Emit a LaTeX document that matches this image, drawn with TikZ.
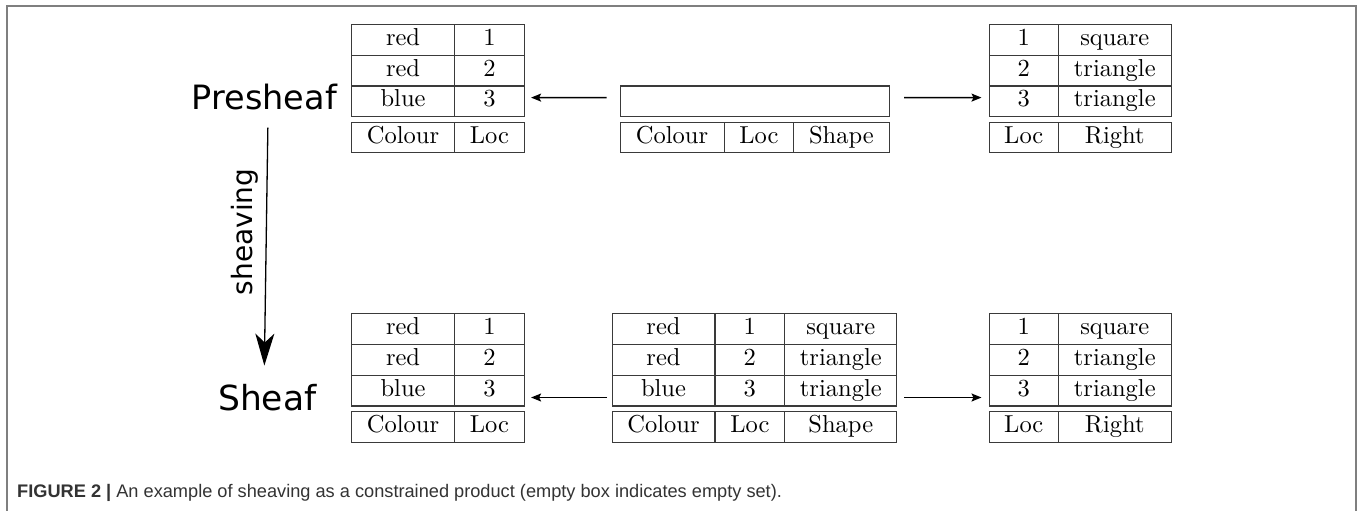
\documentclass[tikz,border=0pt]{standalone}
\usepackage{fontspec}
\newfontfamily\dejavu{DejaVu Sans}
\newfontfamily\capfont{Liberation Sans}
\newfontfamily\lmten{lmroman10-regular.otf}
\usetikzlibrary{arrows.meta,calc}
\definecolor{framegray}{HTML}{7F7F7F}
\definecolor{linegray}{HTML}{3A3A3A}
\definecolor{captext}{HTML}{333333}
\tikzset{
 cell/.style={draw=linegray, line width=1.1pt, anchor=north west, inner sep=0pt, text height=16.5pt, text depth=5.2pt, font=\lmten\fontsize{24.5}{28}\selectfont},
 arr/.style={-{Stealth[length=10pt,width=8pt,inset=2pt]}, line width=1.4pt},
 bigarr/.style={-{Stealth[length=32pt,width=19pt,inset=9pt]}, line width=1.3pt},
 bigtext/.style={font=\dejavu\fontsize{33.5}{40}\selectfont, inner sep=0pt},
}
\newcommand{\cl}[6]{\node[cell,minimum width=#4pt,minimum height=#5pt] (#1) at (#2,#3) {#6};}
\begin{document}
\begin{tikzpicture}[x=1pt,y=-1pt]
\useasboundingbox (0,0) rectangle (1357,511);
\fill[white] (0,0) rectangle (1357,511);
\draw[framegray, line width=1.6pt] (7,511) -- (7,6) -- (1356,6) -- (1356,511);

% ---------- top row (presheaf) ----------
% left table
\cl{a11}{350.7}{24}{103.6}{30.7}{red}
\cl{a12}{454.3}{24}{69.2}{30.7}{1}
\cl{a21}{350.7}{54.7}{103.6}{30.7}{red}
\cl{a22}{454.3}{54.7}{69.2}{30.7}{2}
\cl{a31}{350.7}{85.4}{103.6}{30.7}{blue}
\cl{a32}{454.3}{85.4}{69.2}{30.7}{3}
\cl{ah1}{350.7}{121.7}{103.6}{30.6}{Colour}
\cl{ah2}{454.3}{121.7}{69.2}{30.6}{Loc}
% middle (empty)
\cl{b0}{619.5}{85.4}{269.2}{30.7}{}
\cl{bh1}{619.5}{121.7}{104.1}{30.6}{Colour}
\cl{bh2}{723.6}{121.7}{69.5}{30.6}{Loc}
\cl{bh3}{793.1}{121.7}{95.6}{30.6}{Shape}
% right table
\cl{c11}{988.7}{24}{69}{30.7}{1}
\cl{c12}{1057.7}{24}{113}{30.7}{square}
\cl{c21}{988.7}{54.7}{69}{30.7}{2}
\cl{c22}{1057.7}{54.7}{113}{30.7}{triangle}
\cl{c31}{988.7}{85.4}{69}{30.7}{3}
\cl{c32}{1057.7}{85.4}{113}{30.7}{triangle}
\cl{ch1}{988.7}{121.7}{69}{30.6}{Loc}
\cl{ch2}{1057.7}{121.7}{113}{30.6}{Right}

% ---------- bottom row (sheaf) ----------
\cl{d11}{350.7}{313.3}{103.6}{30.7}{red}
\cl{d12}{454.3}{313.3}{69.2}{30.7}{1}
\cl{d21}{350.7}{344}{103.6}{30.7}{red}
\cl{d22}{454.3}{344}{69.2}{30.7}{2}
\cl{d31}{350.7}{374.7}{103.6}{30.7}{blue}
\cl{d32}{454.3}{374.7}{69.2}{30.7}{3}
\cl{dh1}{350.7}{411}{103.6}{30.7}{Colour}
\cl{dh2}{454.3}{411}{69.2}{30.7}{Loc}

\cl{e11}{611.5}{313.3}{102.9}{30.7}{red}
\cl{e12}{714.4}{313.3}{69.8}{30.7}{1}
\cl{e13}{784.2}{313.3}{112.1}{30.7}{square}
\cl{e21}{611.5}{344}{102.9}{30.7}{red}
\cl{e22}{714.4}{344}{69.8}{30.7}{2}
\cl{e23}{784.2}{344}{112.1}{30.7}{triangle}
\cl{e31}{611.5}{374.7}{102.9}{30.7}{blue}
\cl{e32}{714.4}{374.7}{69.8}{30.7}{3}
\cl{e33}{784.2}{374.7}{112.1}{30.7}{triangle}
\cl{eh1}{611.5}{411}{102.9}{30.7}{Colour}
\cl{eh2}{714.4}{411}{69.8}{30.7}{Loc}
\cl{eh3}{784.2}{411}{112.1}{30.7}{Shape}

\cl{f11}{988.7}{313.3}{69}{30.7}{1}
\cl{f12}{1057.7}{313.3}{113}{30.7}{square}
\cl{f21}{988.7}{344}{69}{30.7}{2}
\cl{f22}{1057.7}{344}{113}{30.7}{triangle}
\cl{f31}{988.7}{374.7}{69}{30.7}{3}
\cl{f32}{1057.7}{374.7}{113}{30.7}{triangle}
\cl{fh1}{988.7}{411}{69}{30.7}{Loc}
\cl{fh2}{1057.7}{411}{113}{30.7}{Right}

% ---------- labels ----------
\node[bigtext, anchor=base east] (pre) at (337,110) {Presheaf};
\node[bigtext, font=\dejavu\fontsize{34.5}{40}\selectfont, anchor=base west] (sh) at (218,410) {Sheaf};
\node[font=\dejavu\fontsize{28}{32}\selectfont, inner sep=0pt, rotate=90, anchor=base] (sv) at (252,232) {sheaving};

% ---------- arrows ----------
\draw[arr] ([shift={(-13,-3.75)}]b0.west) -- ([shift={(6.5,-3.7)}]a32.east);
\draw[arr] ([shift={(14.3,-3.75)}]b0.east) -- ([shift={(-7.2,-3.7)}]c31.west);
\draw[arr] ([shift={(-4.5,6.9)}]e31.west) -- ([shift={(6.5,6.9)}]d32.east);
\draw[arr] ([shift={(6.7,6.9)}]e33.east) -- ([shift={(-7.2,6.9)}]f31.west);
\draw[bigarr] ([shift={(3.5,17)}]pre.south) -- ([shift={(0,-18)}]pre.south |- sh.north);

% ---------- caption ----------
\node[anchor=base west, inner sep=0pt, text=captext, font=\capfont\fontsize{18.2}{21}\selectfont] (cap) at (17,497)
 {\textbf{FIGURE 2 |} An example of sheaving as a constrained product (empty box indicates empty set).};
\end{tikzpicture}
\end{document}
